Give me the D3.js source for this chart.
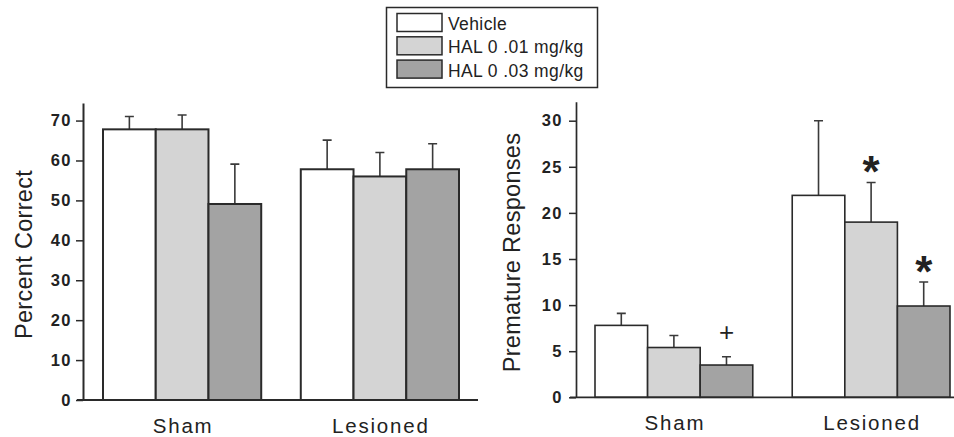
<!doctype html>
<html>
  <head>
    <meta charset='utf-8'>
    <script src="https://d3js.org/d3.v7.min.js"></script>
    <style>
      body { margin: 0; background: #fff; }
      svg { display: block; font-family: "Liberation Sans", Arial, sans-serif; }
    </style>
  </head>

  <body>

  <svg width="954" height="437"></svg>

  <script>
    // data
    const groups = ["Sham", "Lesioned"];
    const seriesNames = ["Vehicle", "HAL 0 .01 mg/kg", "HAL 0 .03 mg/kg"];

    const correctMean = [[67.8, 67.8, 49.1], [57.8, 56.0, 57.8]];
    const correctErr  = [[3.2, 3.6, 10.0], [7.3, 6.0, 6.4]];
    const correctTicks = [0, 10, 20, 30, 40, 50, 60, 70];

    const prematureMean = [[7.8, 5.4, 3.5], [21.9, 19.0, 9.9]];
    const prematureErr  = [[1.3, 1.3, 0.9], [8.1, 4.3, 2.6]];
    const prematureTicks = [0, 5, 10, 15, 20, 25, 30];
    const prematureMarks = [
      {group: "Sham", series: 2, mark: "+"},
      {group: "Lesioned", series: 1, mark: "*"},
      {group: "Lesioned", series: 2, mark: "*"}
    ];

    const fills = ["#ffffff", "#d4d4d4", "#a3a3a3"];
    const ink = "#2a2a2a";

    const svg = d3.select("svg");

    const drawPanel = (opts) => {
      const g = svg.append("g");
      const y = d3.scaleLinear().domain([0, opts.yMax]).range([opts.base, opts.top]);
      const x0 = d3.scaleBand().domain(groups).range(opts.xRange).paddingInner(0.2);
      const x1 = d3.scaleBand().domain(d3.range(seriesNames.length)).range([0, x0.bandwidth()]);

      const rows = [];
      groups.forEach((grp, gi) => {
        seriesNames.forEach((s, si) => {
          rows.push({group: grp, series: si, value: opts.mean[gi][si], err: opts.err[gi][si]});
        });
      });

      const cx = (d) => x0(d.group) + x1(d.series) + x1.bandwidth() / 2;

      // error bars (upper only)
      g.selectAll(".err")
        .data(rows)
        .enter()
          .append("path")
            .attr("class", "err")
            .attr("d", (d) => {
              const p = d3.path();
              p.moveTo(cx(d), y(d.value));
              p.lineTo(cx(d), y(d.value + d.err));
              p.moveTo(cx(d) - 4.5, y(d.value + d.err));
              p.lineTo(cx(d) + 4.5, y(d.value + d.err));
              return p;
            })
            .style("fill", "none")
            .style("stroke", "#3a3a3a")
            .style("stroke-width", "1.6px");

      g.selectAll(".bar")
        .data(rows)
        .enter()
          .append("rect")
            .attr("class", "bar")
            .attr("x", (d) => x0(d.group) + x1(d.series))
            .attr("y", (d) => y(d.value))
            .attr("width", x1.bandwidth())
            .attr("height", (d) => y(0) - y(d.value))
            .style("fill", (d) => fills[d.series])
            .style("stroke", ink)
            .style("stroke-width", opts.barStroke + "px");

      // y axis
      const axis = g.append("g")
        .attr("transform", `translate(${opts.axisX},0)`)
        .call(d3.axisLeft(y).tickValues(opts.ticks).tickSize(7).tickSizeOuter(0).tickPadding(opts.tickPad));
      axis.select(".domain").style("stroke", ink).style("stroke-width", opts.axisStroke + "px");
      axis.selectAll(".tick line").style("stroke", ink).style("stroke-width", "1.5px");
      axis.selectAll(".tick text")
        .style("font-family", "'Liberation Sans', Arial, sans-serif")
        .style("font-size", "16.5px")
        .style("font-weight", "bold")
        .style("letter-spacing", "1.5px")
        .style("fill", "#222");

      // baseline
      g.append("line")
        .attr("x1", opts.axisX - 6).attr("x2", opts.baseEnd)
        .attr("y1", y(0)).attr("y2", y(0))
        .style("stroke", ink)
        .style("stroke-width", opts.axisStroke + "px");

      g.selectAll(".grp")
        .data(groups)
        .enter()
          .append("text")
            .attr("class", "grp")
            .attr("x", (d) => x0(d) + x0.bandwidth() / 2 + 1)
            .attr("y", y(0) + 33)
            .attr("text-anchor", "middle")
            .style("font-size", "20.5px")
            .style("letter-spacing", "1.8px")
            .style("fill", "#222")
            .text((d) => d);

      g.append("text")
        .attr("transform", `translate(${opts.titleX},${(opts.top + opts.base) / 2 + 3}) rotate(-90)`)
        .attr("text-anchor", "middle")
        .style("font-size", "23.5px")
        .style("letter-spacing", "0.3px")
        .style("fill", "#222")
        .text(opts.title);

      return {g, y, x0, x1, cx};
    };

    drawPanel({
      mean: correctMean, err: correctErr, ticks: correctTicks,
      yMax: 74.4, base: 400, top: 103, xRange: [103, 459],
      axisX: 83, baseEnd: 478, tickPad: 4, barStroke: 2, axisStroke: 2,
      titleX: 32, title: "Percent Correct"
    });

    const right = drawPanel({
      mean: prematureMean, err: prematureErr, ticks: prematureTicks,
      yMax: 32.06, base: 397.3, top: 101.7, xRange: [595, 950],
      axisX: 576, baseEnd: 954, tickPad: 6, barStroke: 1.6, axisStroke: 1.7,
      titleX: 520, title: "Premature Responses"
    });

    right.g.selectAll(".mark")
      .data(prematureMarks)
      .enter()
        .append("text")
          .attr("class", "mark")
          .attr("x", (d) => right.cx(d))
          .attr("y", (d) => {
            const gi = groups.indexOf(d.group);
            const top = right.y(prematureMean[gi][d.series] + prematureErr[gi][d.series]);
            return d.mark === "*" ? top - 19 + 24 : top - 25 + 9;
          })
          .attr("text-anchor", "middle")
          .style("font-size", (d) => d.mark === "*" ? "44px" : "26px")
          .style("font-weight", (d) => d.mark === "*" ? "bold" : "normal")
          .style("fill", "#222")
          .text((d) => d.mark);

    // legend
    const legend = svg.append("g");
    legend.append("rect")
      .attr("x", 386.5).attr("y", 7.5)
      .attr("width", 211).attr("height", 80)
      .style("fill", "#fff")
      .style("stroke", ink)
      .style("stroke-width", "1.5px");

    const items = legend.selectAll(".item")
      .data(seriesNames)
      .enter()
        .append("g")
          .attr("class", "item")
          .attr("transform", (_, i) => `translate(397,${13.5 + i * 23.3})`);
    items.append("rect")
      .attr("width", 45).attr("height", 18)
      .style("fill", (_, i) => fills[i])
      .style("stroke", ink)
      .style("stroke-width", "1.5px");
    items.append("text")
      .attr("x", 51).attr("y", 16.5)
      .style("font-size", "17.5px")
      .style("letter-spacing", "0.4px")
      .style("fill", "#222")
      .text((d) => d);
  </script>
  </body>
</html>
